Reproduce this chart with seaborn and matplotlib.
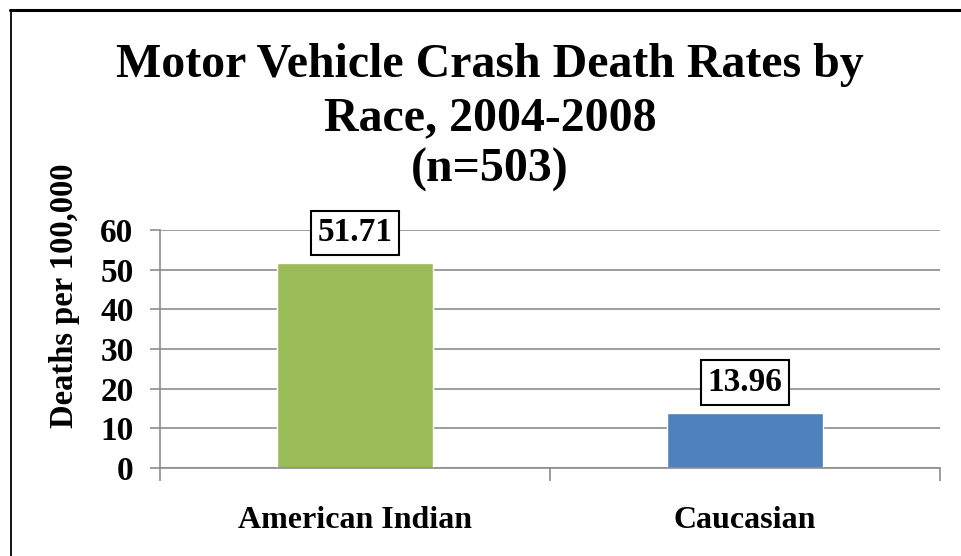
import matplotlib
matplotlib.use("Agg")
import matplotlib.pyplot as plt
import seaborn as sns
import pandas as pd
from matplotlib.lines import Line2D

categories = ["American Indian", "Caucasian"]
values = [51.71, 13.96]
colors = ["#9BBB59", "#4F81BD"]
yticks = [0, 10, 20, 30, 40, 50, 60]

sns.set_theme(style="white")
plt.rcParams['font.family'] = ['Liberation Serif', 'DejaVu Serif']
plt.rcParams['text.color'] = 'black'
plt.rcParams['axes.labelcolor'] = 'black'
plt.rcParams['xtick.color'] = 'black'
plt.rcParams['ytick.color'] = 'black'

df = pd.DataFrame({"race": categories, "rate": values})

fig = plt.figure(figsize=(9.61, 5.56), dpi=100)
W, H = 961, 556
ax = fig.add_axes([160 / W, 1 - 468 / H, 780 / W, 238 / H])

sns.barplot(data=df, x="race", y="rate", hue="race", palette=colors,
            width=0.4, ax=ax, legend=False, saturation=1)

ax.set_ylim(0, 60)
ax.set_xlim(-0.5, 1.5)
ax.set_yticks(yticks)
ax.set_yticklabels([str(t) for t in yticks], fontsize=24, fontweight="bold")
ax.set_xticks([0, 1])
ax.set_xticklabels(categories, fontsize=23, fontweight="bold")
ax.set_xlabel("")
ax.set_ylabel("Deaths per 100,000", fontsize=23.5, fontweight="bold")
ax.yaxis.set_label_coords(-0.102, (468 - 296) / 238)
ax.yaxis.grid(True, color="#8c8c8c", linewidth=1.2)
ax.set_axisbelow(True)
for s in ["top", "right"]:
    ax.spines[s].set_visible(False)
for s in ["left", "bottom"]:
    ax.spines[s].set_color("#8c8c8c")
    ax.spines[s].set_linewidth(1.2)
ax.tick_params(axis="y", length=7, color="#8c8c8c", width=1.2, pad=12, left=True,
               labelcolor="black")
ax.tick_params(axis="x", length=0, pad=27, labelcolor="black")
ax.set_xticks([-0.5, 0.5, 1.5], minor=True)
ax.tick_params(axis="x", which="minor", length=9, color="#8c8c8c", width=1.2, bottom=True)

for i, v in enumerate(values):
    ax.annotate(f"{v:.2f}", xy=(i, v), xytext=(0, 10.5), textcoords="offset points",
                ha="center", va="bottom", fontsize=24, fontweight="bold", color="black",
                bbox=dict(boxstyle="square,pad=0.2", facecolor="white",
                          edgecolor="black", linewidth=1.5))

for y, line in [(65, "Motor Vehicle Crash Death Rates by"),
                (118, "Race, 2004-2008"),
                (170, "(n=503)")]:
    fig.text(490 / W, 1 - y / H, line, ha="center", va="center",
             fontsize=34.5, fontweight="bold", color="black")

fig.add_artist(Line2D([10 / W, 1.0], [1 - 10 / H, 1 - 10 / H],
                      transform=fig.transFigure, color="black", linewidth=2.2))
fig.add_artist(Line2D([10.5 / W, 10.5 / W], [0, 1 - 10 / H],
                      transform=fig.transFigure, color="black", linewidth=1.3))

fig.savefig("out.png", dpi=100)
